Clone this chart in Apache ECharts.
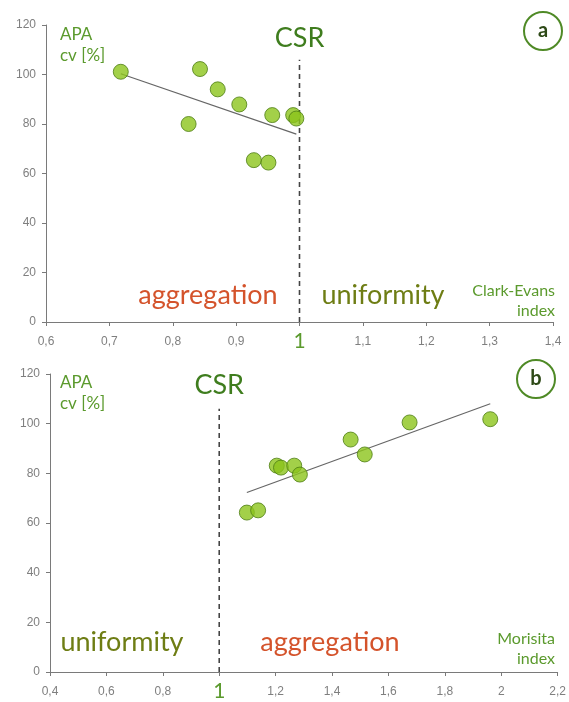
<!DOCTYPE html>
<html>
<head>
<meta charset="utf-8">
<script src="https://cdn.jsdelivr.net/npm/echarts@6/dist/echarts.min.js"></script>
<style>
  html, body { margin: 0; padding: 0; background: #fff; }
  #main { width: 569px; height: 702px; }
</style>
</head>
<body>
<div id="main"></div>
<script>
// panel a: Clark-Evans index vs APA cv
const clarkEvans = [0.718, 0.843, 0.825, 0.871, 0.905, 0.957, 0.990, 0.995, 0.928, 0.951]
const apaCvA = [101.1, 102.2, 80.0, 94.0, 87.9, 83.6, 83.6, 82.2, 65.4, 64.4]
// panel b: Morisita index vs APA cv
const morisita = [1.098, 1.138, 1.204, 1.219, 1.266, 1.286, 1.466, 1.516, 1.675, 1.961]
const apaCvB = [64.2, 65.1, 83.1, 82.3, 83.1, 79.5, 93.6, 87.6, 100.5, 101.8]

const csrValue = 1
const csrLineTop = 106

const GREEN = '#5b9a2d'
const DARK_GREEN = '#3f7d1e'
const RED = '#d4532b'
const OLIVE = '#6e7d14'
const FONT = 'Lato, "Open Sans", sans-serif'

// least squares fit, drawn from min x to max x
const trend = (xs, ys) => {
  const n = xs.length
  const mx = xs.reduce((a, b) => a + b, 0) / n
  const my = ys.reduce((a, b) => a + b, 0) / n
  let sxy = 0, sxx = 0
  xs.forEach((x, i) => {
    sxy += (x - mx) * (ys[i] - my)
    sxx += (x - mx) * (x - mx)
  })
  const k = sxy / sxx
  const x0 = Math.min(...xs), x1 = Math.max(...xs)
  return [[x0, my + k * (x0 - mx)], [x1, my + k * (x1 - mx)]]
}

const xLabel = (value) => {
  if (Math.abs(value - csrValue) < 1e-9) return '{one|1}'
  return String(parseFloat(value.toFixed(2))).replace('.', ',')
}

const makeX = (gridIndex, min, max, interval) => ({
  type: 'value',
  gridIndex,
  min,
  max,
  interval,
  splitLine: { show: false },
  axisLine: { lineStyle: { color: '#7a7a7a', width: 1 } },
  axisTick: { show: true, length: 4, lineStyle: { color: '#7a7a7a' } },
  axisLabel: {
    formatter: xLabel,
    margin: 13,
    color: '#7f7f7f',
    fontSize: 12,
    lineHeight: 13,
    fontFamily: '"Liberation Sans", Arial, sans-serif',
    rich: {
      one: { fontSize: 21, lineHeight: 13, color: GREEN, fontFamily: FONT }
    }
  }
})

const makeY = (gridIndex) => ({
  type: 'value',
  gridIndex,
  min: 0,
  max: 120,
  interval: 20,
  splitLine: { show: false },
  axisLine: { show: true, lineStyle: { color: '#7a7a7a', width: 1 } },
  axisTick: { show: true, length: 4, lineStyle: { color: '#7a7a7a' } },
  axisLabel: {
    margin: 10,
    color: '#7f7f7f',
    fontSize: 12,
    fontFamily: '"Liberation Sans", Arial, sans-serif'
  }
})

const scatter = (idx, xs, ys) => ({
  type: 'scatter',
  xAxisIndex: idx,
  yAxisIndex: idx,
  symbolSize: 15,
  z: 5,
  itemStyle: { color: '#8cc41c', borderColor: '#4e7d14', borderWidth: 1 },
  data: xs.map((x, i) => [x, ys[i]])
})

const trendLine = (idx, xs, ys) => ({
  type: 'line',
  xAxisIndex: idx,
  yAxisIndex: idx,
  symbol: 'none',
  z: 4,
  lineStyle: { color: '#666', width: 1.2 },
  data: trend(xs, ys)
})

const csrLine = (idx) => ({
  type: 'line',
  xAxisIndex: idx,
  yAxisIndex: idx,
  symbol: 'none',
  z: 3,
  lineStyle: { color: '#444', width: 1.6, type: [5, 4] },
  data: [[csrValue, 0], [csrValue, csrLineTop]]
})

const chart = echarts.init(document.getElementById('main'))

chart.setOption({
  animation: false,
  grid: [
    { left: 46, right: 16, top: 25, bottom: 380 },
    { left: 50, right: 11, top: 374, bottom: 30 }
  ],
  xAxis: [makeX(0, 0.6, 1.4, 0.1), makeX(1, 0.4, 2.2, 0.2)],
  yAxis: [makeY(0), makeY(1)],
  series: [
    csrLine(0),
    trendLine(0, clarkEvans, apaCvA),
    scatter(0, clarkEvans, apaCvA),
    csrLine(1),
    trendLine(1, morisita, apaCvB),
    scatter(1, morisita, apaCvB)
  ]
})

const csrA = chart.convertToPixel({ xAxisIndex: 0 }, csrValue)
const csrB = chart.convertToPixel({ xAxisIndex: 1 }, csrValue)

const txt = (x, y, text, size, color, align) => ({
  type: 'text',
  x,
  y,
  z: 10,
  style: {
    text,
    fontSize: size,
    fontFamily: FONT,
    fill: color,
    align: align || 'center',
    verticalAlign: 'middle',
    lineHeight: Math.round(size * 1.25)
  }
})

const badge = (cx, cy, letter) => [
  {
    type: 'circle',
    shape: { cx, cy, r: 19 },
    style: { fill: '#fff', stroke: '#4f8a26', lineWidth: 2 }
  },
  {
    type: 'text',
    x: cx,
    y: cy,
    style: {
      text: letter,
      fontSize: 20,
      fontWeight: 'bold',
      fontFamily: FONT,
      fill: '#2e4a17',
      align: 'center',
      verticalAlign: 'middle'
    }
  }
]

chart.setOption({
  graphic: [
    // panel a
    txt(60, 45, 'APA\ncv [%]', 17, GREEN, 'left'),
    txt(csrA, 38, 'CSR', 27, DARK_GREEN),
    ...badge(543, 31, 'a'),
    txt(208, 295, 'aggregation', 27, RED),
    txt(383, 295, 'uniformity', 27, OLIVE),
    txt(555, 301, 'Clark-Evans\nindex', 16, GREEN, 'right'),
    // panel b
    txt(60, 393, 'APA\ncv [%]', 17, GREEN, 'left'),
    txt(csrB, 385, 'CSR', 27, DARK_GREEN),
    ...badge(536, 379, 'b'),
    txt(122, 642, 'uniformity', 27, OLIVE),
    txt(330, 642, 'aggregation', 27, RED),
    txt(555, 649, 'Morisita\nindex', 16, GREEN, 'right')
  ]
})
</script>
</body>
</html>
